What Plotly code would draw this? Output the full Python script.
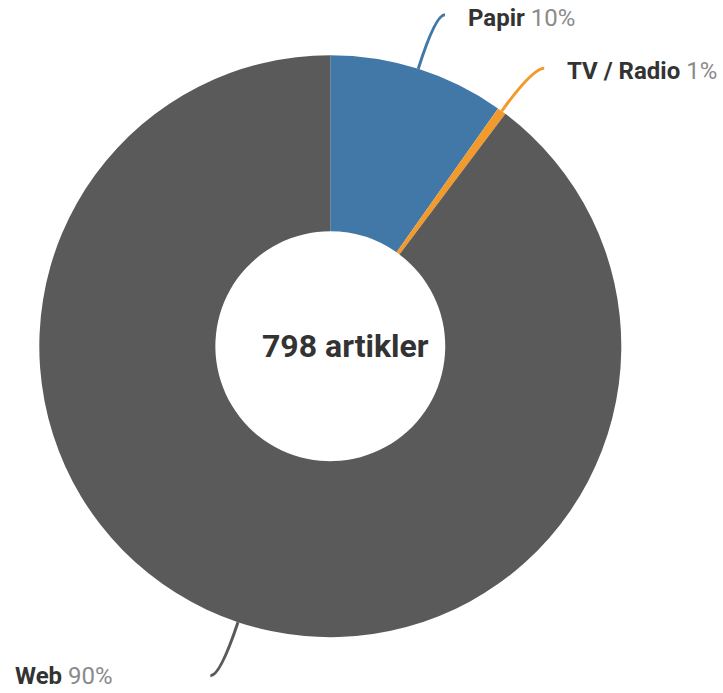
import math
import plotly.graph_objects as go

# Article counts per media type
categories = ["Papir", "TV / Radio", "Web"]
counts = [78, 4, 716]
colors = ["#4178a8", "#f39a2d", "#5a5a5a"]
center_label = "798 artikler"

W, H = 723, 693
CX, CY, R = 330.3, 346.2, 291.0   # donut centre and outer radius (px)
HOLE = 0.395

fig = go.Figure(go.Pie(
    labels=categories,
    values=counts,
    marker=dict(colors=colors, line=dict(width=0)),
    hole=HOLE,
    sort=False,
    direction="clockwise",
    rotation=0,
    textinfo="none",
    hoverinfo="label+percent",
    domain=dict(x=[(CX - R) / W, (CX + R) / W],
                y=[1 - (CY + R) / H, 1 - (CY - R) / H]),
    showlegend=False,
))


def px(x, y):
    return x / W, 1 - y / H


total = sum(counts)
shapes, annotations = [], []
acc = 0.0
for name, val, col in zip(categories, counts, colors):
    mid = (acc + val / 2) / total * 2 * math.pi
    acc += val
    dx, dy = math.sin(mid), -math.cos(mid)
    # leader: starts on the rim, runs outwards, hooks horizontally
    x0, y0 = CX + R * dx, CY + R * dy
    ang_end = mid + math.radians(1.5)
    x1 = CX + 1.205 * R * math.sin(ang_end)
    y1 = CY - 1.205 * R * math.cos(ang_end)
    t = (y1 - y0) / dy
    xc, yc = x0 + t * dx, y1
    a0, b0 = px(x0, y0)
    ac, bc = px(xc, yc)
    a1, b1 = px(x1, y1)
    shapes.append(dict(
        type="path", xref="paper", yref="paper",
        path=f"M {a0} {b0} Q {ac} {bc} {a1} {b1}",
        line=dict(color=col, width=3),
    ))
    pct = round(val / total * 100 + 1e-9)
    right = dx >= 0
    if right:
        lx, anchor, shift = x1 + 21, "left", -3
    else:
        lx, anchor, shift = x1 - 95, "right", 0
    la, lb = px(lx, y1)
    annotations.append(dict(
        xref="paper", yref="paper", x=la, y=lb,
        xanchor=anchor, yanchor="middle", yshift=shift,
        showarrow=False,
        text=f"<b>{name}</b> <span style='color:#8a8a8a'>{pct}%</span>",
        font=dict(family="Roboto", size=24, color="#333333"),
    ))

ca, cb = px(CX + 15, CY)
annotations.append(dict(
    xref="paper", yref="paper", x=ca, y=cb,
    xanchor="center", yanchor="middle", showarrow=False,
    text=f"<b>{center_label}</b>",
    font=dict(family="Roboto", size=32, color="#333333"),
))

fig.update_layout(
    width=W, height=H,
    margin=dict(l=0, r=0, t=0, b=0),
    paper_bgcolor="white",
    plot_bgcolor="white",
    shapes=shapes,
    annotations=annotations,
)

fig.write_html("out.html")
